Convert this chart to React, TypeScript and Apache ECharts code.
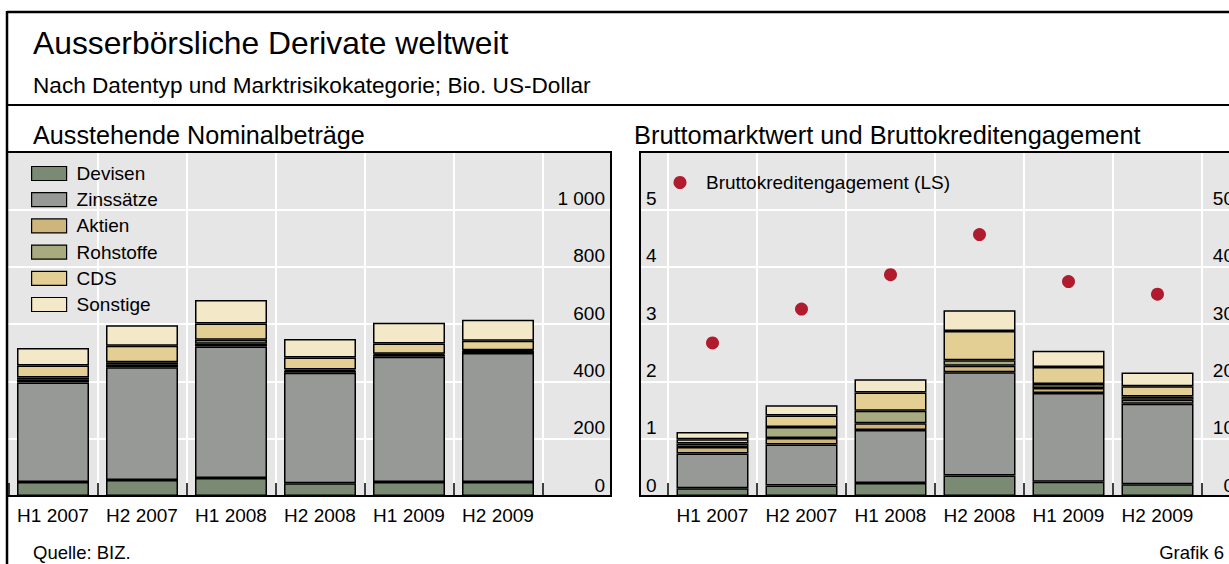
import React, { useEffect, useRef } from "react";
import * as echarts from "echarts";

const FONT = 'Arial, "Liberation Sans", Helvetica, sans-serif';

const categories = ["H1 2007", "H2 2007", "H1 2008", "H2 2008", "H1 2009", "H2 2009"];
const seriesNames = ["Devisen", "Zinssätze", "Aktien", "Rohstoffe", "CDS", "Sonstige"];
const seriesColors = ["#7b8a73", "#979996", "#cdb57c", "#a8aa80", "#e3cf94", "#f3e9c8"];

// Ausstehende Nominalbeträge (Bio. US-Dollar)
const devisenNom = [48.6, 56.2, 63.0, 44.2, 48.8, 49.2];
const zinsNom = [347.3, 393.1, 458.3, 385.9, 437.2, 449.9];
const aktienNom = [9.5, 8.5, 10.2, 6.5, 6.6, 6.6];
const rohstoffeNom = [7.6, 8.5, 13.2, 4.4, 3.6, 2.9];
const cdsNom = [42.6, 58.2, 57.4, 41.9, 36.0, 32.7];
const sonstigeNom = [60.8, 71.2, 81.7, 64.5, 72.4, 73.4];

// Bruttomarktwert (Bio. US-Dollar, rechte Skala)
const devisenMkt = [1.35, 1.81, 2.26, 3.59, 2.47, 2.07];
const zinsMkt = [6.06, 7.18, 9.26, 18.01, 15.48, 14.02];
const aktienMkt = [1.12, 1.14, 1.15, 1.11, 0.88, 0.71];
const rohstoffeMkt = [0.64, 1.9, 2.21, 0.96, 0.69, 0.55];
const cdsMkt = [0.72, 2.02, 3.19, 5.12, 2.99, 1.8];
const sonstigeMkt = [1.26, 1.79, 2.28, 3.59, 2.81, 2.4];

// Bruttokreditengagement (linke Skala)
const kreditengagement = [2.67, 3.26, 3.86, 4.56, 3.74, 3.52];
const kreditName = "Bruttokreditengagement (LS)";

const nomData = [devisenNom, zinsNom, aktienNom, rohstoffeNom, cdsNom, sonstigeNom];
const mktData = [devisenMkt, zinsMkt, aktienMkt, rohstoffeMkt, cdsMkt, sonstigeMkt];

const fmt = (v: number) => String(v).replace(/\B(?=(\d{3})+(?!\d))/g, " ");

function catAxis(gridIndex: number, showMin: boolean) {
  return {
    type: "category",
    gridIndex,
    data: categories,
    boundaryGap: true,
    axisLine: { show: true, lineStyle: { color: "#000", width: 2 } },
    axisTick: { show: true, inside: true, length: 13, interval: 0, lineStyle: { color: "#000", width: 1.5 } },
    axisLabel: { show: true, interval: 0, fontSize: 19, color: "#000", fontFamily: FONT, margin: 10, lineHeight: 19 },
    splitLine: { show: true, interval: 0, showMinLine: showMin, lineStyle: { color: "#fff", width: 2 } },
  };
}

function valLabel(fontSize: number) {
  return {
    inside: true,
    fontSize,
    color: "#000",
    fontFamily: FONT,
    verticalAlign: "bottom",
    lineHeight: 22,
    margin: 6,
    showMaxLabel: false,
    formatter: (v: number) => fmt(v),
  };
}

function text(t: string, x: number, y: number, size: number, align = "left") {
  return {
    type: "text",
    x,
    y,
    z: 100,
    style: { text: t, fontSize: size, fontFamily: FONT, fill: "#000", align, verticalAlign: "middle" },
  };
}

export default function App() {
  const ref = useRef<HTMLDivElement>(null);
  useEffect(() => {
    if (!ref.current) return;
    const chart = echarts.init(ref.current, null, { renderer: "svg" });
    const series: any[] = [];
    seriesNames.forEach((name, i) => {
      series.push({
        type: "bar",
        name,
        xAxisIndex: 1,
        yAxisIndex: 1,
        stack: "nom",
        barWidth: 72,
        data: nomData[i],
        itemStyle: { color: seriesColors[i], borderColor: "#000", borderWidth: 1.5 },
      });
    });
    seriesNames.forEach((name, i) => {
      series.push({
        type: "bar",
        name,
        xAxisIndex: 3,
        yAxisIndex: 4,
        stack: "mkt",
        barWidth: 72,
        data: mktData[i],
        itemStyle: { color: seriesColors[i], borderColor: "#000", borderWidth: 1.5 },
      });
    });
    series.push({
      type: "scatter",
      name: kreditName,
      xAxisIndex: 3,
      yAxisIndex: 5,
      symbol: "circle",
      symbolSize: 13,
      z: 5,
      data: kreditengagement,
      itemStyle: { color: "#b01c2e", opacity: 1 },
    });

    chart.setOption({
      animation: false,
      textStyle: { fontFamily: FONT },
      grid: [
        { left: 7, top: 152, width: 604, height: 344, show: true, backgroundColor: "#e6e6e6", borderWidth: 0 },
        { left: 8.5, top: 152, width: 534, height: 344 },
        { left: 640, top: 152, width: 600, height: 344, show: true, backgroundColor: "#e6e6e6", borderWidth: 0 },
        { left: 668, top: 152, width: 534, height: 344 },
      ],
      xAxis: [
        { type: "value", gridIndex: 0, min: 0, max: 1, show: false },
        catAxis(1, false),
        { type: "value", gridIndex: 2, min: 0, max: 1, show: false },
        catAxis(3, true),
      ],
      yAxis: [
        {
          type: "value", gridIndex: 0, position: "right", min: 0, max: 1200, interval: 200,
          axisLine: { show: false }, axisTick: { show: false },
          axisLabel: valLabel(19),
          splitLine: { show: true, showMinLine: false, showMaxLine: false, lineStyle: { color: "#fff", width: 2 } },
        },
        { type: "value", gridIndex: 1, min: 0, max: 1200, interval: 200, show: false },
        {
          type: "value", gridIndex: 2, position: "left", min: 0, max: 6, interval: 1,
          axisLine: { show: false }, axisTick: { show: false },
          axisLabel: valLabel(19),
          splitLine: { show: true, showMinLine: false, showMaxLine: false, lineStyle: { color: "#fff", width: 2 } },
        },
        {
          type: "value", gridIndex: 2, position: "right", min: 0, max: 60, interval: 10,
          axisLine: { show: false }, axisTick: { show: false },
          axisLabel: valLabel(19),
          splitLine: { show: false },
        },
        { type: "value", gridIndex: 3, min: 0, max: 60, interval: 10, show: false },
        { type: "value", gridIndex: 3, min: 0, max: 6, interval: 1, show: false },
      ],
      legend: [
        {
          data: seriesNames,
          orient: "vertical",
          left: 31,
          top: 164,
          padding: 0,
          itemWidth: 35,
          itemHeight: 14,
          itemGap: 7.2,
          selectedMode: false,
          icon: "rect",
          itemStyle: { borderColor: "#000", borderWidth: 1.2 },
          textStyle: { fontSize: 19, lineHeight: 18, color: "#000", fontFamily: FONT, padding: [0, 0, 0, 5] },
        },
        {
          data: [kreditName],
          orient: "vertical",
          left: 673.5,
          top: 173,
          padding: 0,
          itemWidth: 26,
          itemHeight: 13,
          selectedMode: false,
          icon: "circle",
          textStyle: { fontSize: 19, lineHeight: 18, color: "#000", fontFamily: FONT, padding: [0, 0, 0, 8] },
        },
      ],
      graphic: [
        { type: "line", z: 100, shape: { x1: 7, y1: 12, x2: 1260, y2: 12 }, style: { stroke: "#000", lineWidth: 2.5 } },
        { type: "line", z: 100, shape: { x1: 7, y1: 11, x2: 7, y2: 564 }, style: { stroke: "#000", lineWidth: 2.5 } },
        { type: "line", z: 100, shape: { x1: 7, y1: 105, x2: 1260, y2: 105 }, style: { stroke: "#000", lineWidth: 2 } },
        { type: "rect", z: 100, shape: { x: 7, y: 152, width: 604, height: 344 }, style: { fill: "none", stroke: "#000", lineWidth: 2 } },
        { type: "rect", z: 100, shape: { x: 640, y: 152, width: 600, height: 344 }, style: { fill: "none", stroke: "#000", lineWidth: 2 } },
        text("Ausserbörsliche Derivate weltweit", 33, 43, 31.8),
        text("Nach Datentyp und Marktrisikokategorie; Bio. US-Dollar", 33, 85, 22.6),
        text("Ausstehende Nominalbeträge", 33, 135, 25.2),
        text("Bruttomarktwert und Bruttokreditengagement", 634, 135, 25.4),
        text("Quelle: BIZ.", 33, 552, 18.5),
        text("Grafik 6", 1224, 552, 18.5, "right"),
      ],
      series,
    });
    return () => chart.dispose();
  }, []);
  return (
    <div style={{ position: "fixed", left: 0, top: 0, width: 1229, height: 564, overflow: "hidden", background: "#fff" }}>
      <div ref={ref} style={{ width: 1260, height: 564 }} />
    </div>
  );
}
